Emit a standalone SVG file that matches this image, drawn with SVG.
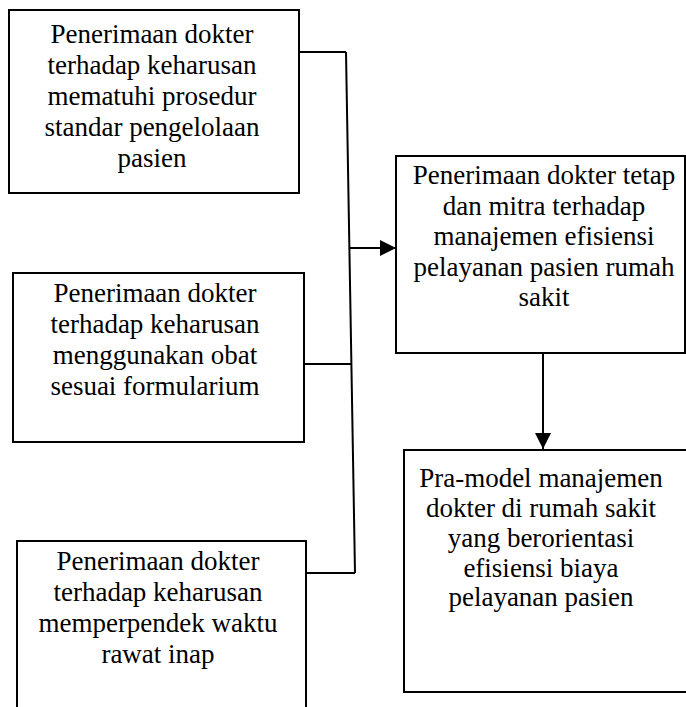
<svg xmlns="http://www.w3.org/2000/svg" width="686" height="707" viewBox="0 0 686 707">
<style>
  .box { fill: #ffffff; stroke: #000000; stroke-width: 2; }
  .conn { fill: none; stroke: #000000; stroke-width: 2; }
  text { font-family: "Liberation Serif", "Times New Roman", serif; font-size: 27px; fill: #000000; text-anchor: middle; }
</style>
<defs>
  <marker id="arrow" viewBox="0 0 16 16" refX="16" refY="8" markerWidth="16" markerHeight="16" markerUnits="userSpaceOnUse" orient="auto">
    <path d="M0,0 L16,8 L0,16 Z" fill="#000000"/>
  </marker>
</defs>
<rect width="686" height="707" fill="#ffffff"/>
<g id="connectors">
  <path class="conn" d="M299,52 L346,52"/>
  <path class="conn" d="M346,52 L355,573"/>
  <path class="conn" d="M304,364 L351,364"/>
  <path class="conn" d="M306,573 L355,573"/>
  <path class="conn" d="M349,248 L396,248" marker-end="url(#arrow)"/>
  <path class="conn" d="M543,353 L543,449" marker-end="url(#arrow)"/>
</g>
<g id="node1">
  <rect class="box" x="9" y="10" width="290" height="183"/>
  <text x="152" y="43">Penerimaan dokter</text>
  <text x="152" y="74">terhadap keharusan</text>
  <text x="152" y="105">mematuhi prosedur</text>
  <text x="152" y="136">standar pengelolaan</text>
  <text x="152" y="167">pasien</text>
</g>
<g id="node2">
  <rect class="box" x="13" y="273" width="291" height="169"/>
  <text x="155" y="302">Penerimaan dokter</text>
  <text x="155" y="333">terhadap keharusan</text>
  <text x="155" y="364">menggunakan obat</text>
  <text x="155" y="395">sesuai formularium</text>
</g>
<g id="node3">
  <rect class="box" x="17" y="541" width="289" height="180"/>
  <text x="158" y="570">Penerimaan dokter</text>
  <text x="158" y="601">terhadap keharusan</text>
  <text x="158" y="632">memperpendek waktu</text>
  <text x="158" y="663">rawat inap</text>
</g>
<g id="node4">
  <rect class="box" x="396" y="156" width="289" height="197"/>
  <text x="544" y="184">Penerimaan dokter tetap</text>
  <text x="544" y="215">dan mitra terhadap</text>
  <text x="544" y="245">manajemen efisiensi</text>
  <text x="544" y="276">pelayanan pasien rumah</text>
  <text x="544" y="306">sakit</text>
</g>
<g id="node5">
  <rect class="box" x="404" y="450" width="290" height="242"/>
  <text x="541" y="487">Pra-model manajemen</text>
  <text x="541" y="517">dokter di rumah sakit</text>
  <text x="541" y="547">yang berorientasi</text>
  <text x="541" y="577">efisiensi biaya</text>
  <text x="541" y="606">pelayanan pasien</text>
</g>
</svg>
